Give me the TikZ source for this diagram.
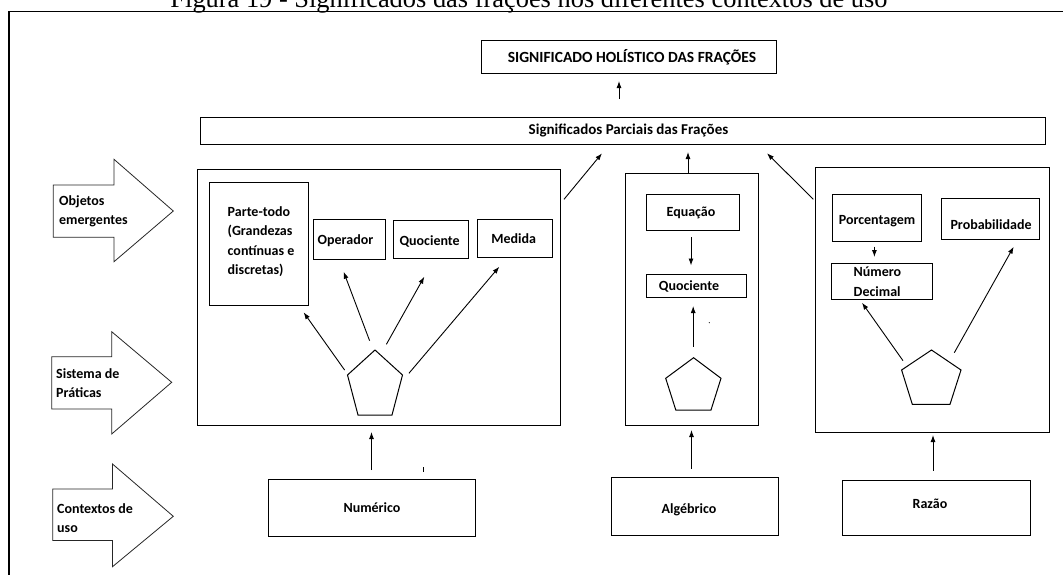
\documentclass[tikz,border=0pt]{standalone}
\usepackage{fontspec}
\setmainfont{Carlito}
\newfontfamily\titlefont{Liberation Serif}
\usetikzlibrary{arrows.meta}
\begin{document}
\begin{tikzpicture}[x=1pt,y=-1pt,
  box/.style={draw, line width=1pt, inner sep=0pt},
  txt/.style={inner sep=0pt, font=\bfseries\fontsize{14}{19.5}\selectfont},
  ltxt/.style={txt, align=left, anchor=west},
  arr/.style={-{Latex[length=7pt,width=5pt]}, line width=0.9pt},
  blk/.style={draw=black!85, line width=0.8pt, fill=white, line join=miter},
  pent/.style={draw, line width=1pt}]
\useasboundingbox (0,0) rectangle (1063,574);
\clip (0,0) rectangle (1063,574);
% title and frame
\node[anchor=base, inner sep=0pt, font=\titlefont\fontsize{26.4}{26.4}\selectfont] (title) at (529,7.5) {Figura 19 - Significados das frações nos diferentes contextos de uso};
\draw[line width=1.8pt] (9,580) -- (9,11.5) -- (1070,11.5);
% top boxes
\node[box, minimum width=295pt, minimum height=33pt] (hol) at (628.5,56.5) {};
\node[txt, font=\bfseries\fontsize{15.5}{18}\selectfont] (holt) at (632,57) {SIGNIFICADO HOLÍSTICO DAS FRAÇÕES};
\node[box, minimum width=845pt, minimum height=27pt] (par) at (622.5,130.5) {};
\node[txt, font=\bfseries\fontsize{15}{18}\selectfont] (part) at (628.5,130) {Significados Parciais das Frações};
\coordinate (parup) at (619,99);
\coordinate (holin) at (619,81);
\draw[arr] (parup) -- (holin);
% left box
\node[box, minimum width=363pt, minimum height=256pt] (numbox) at (378.5,297) {};
\node[box, minimum width=99pt, minimum height=123pt] (pt) at (258.5,243.5) {};
\node[ltxt] (ptt) at (227.5,241.5) {Parte-todo\\(Grandezas\\contínuas e\\discretas)};
\node[box, minimum width=72pt, minimum height=40pt] (op) at (349.5,239.5) {};
\node[txt] (opt) at (345.5,240.5) {Operador};
\node[box, minimum width=75pt, minimum height=38pt] (q1) at (430.5,239.5) {};
\node[txt] (q1t) at (429.6,241) {Quociente};
\node[box, minimum width=75.5pt, minimum height=38pt] (med) at (514.75,238) {};
\node[txt] (medt) at (513.6,239) {Medida};
\draw[pent] (375,350) -- (402.5,375) -- (392,415) -- (358,415) -- (347.5,375) -- cycle;
\coordinate (pa1) at (344.6,370);   \coordinate (pa1e) at (303.6,312.3);
\coordinate (pa2) at (369.6,340.7); \coordinate (pa2e) at (343.6,271.7);
\coordinate (pa3) at (386.4,344.3); \coordinate (pa3e) at (424.3,276.7);
\coordinate (pa4) at (408.9,373.3); \coordinate (pa4e) at (499.3,266.7);
\draw[arr] (pa1) -- (pa1e);
\draw[arr] (pa2) -- (pa2e);
\draw[arr] (pa3) -- (pa3e);
\draw[arr] (pa4) -- (pa4e);
% center box
\node[box, minimum width=132.5pt, minimum height=252pt] (algbox) at (691.75,299) {};
\node[box, minimum width=93pt, minimum height=36pt] (eq) at (693,212) {};
\node[txt] (eqt) at (691,213) {Equação};
\node[box, minimum width=100pt, minimum height=23pt] (q2) at (696,285.5) {};
\node[txt] (q2t) at (689,286) {Quociente};
\coordinate (eqd) at (691,237);
\draw[arr] (eqd) -- (691,265.5);
\draw[pent] (693.6,357.7) -- (721,378.3) -- (711,410) -- (675.8,410) -- (665.7,378.3) -- cycle;
\coordinate (pb1) at (693.2,346.7);
\draw[arr] (pb1) -- (693.2,306);
\fill (709.3,322.7) circle (0.6pt);
% right box
\node[box, minimum width=233.5pt, minimum height=265pt] (razbox) at (932.25,299.5) {};
\node[box, minimum width=89pt, minimum height=47pt] (porc) at (877,217.5) {};
\node[txt] (porct) at (877,221.5) {Porcentagem};
\node[box, minimum width=101.5pt, minimum height=36pt] (nd) at (881.75,281.5) {};
\node[ltxt] (ndt) at (853.5,281.5) {Número\\Decimal};
\node[box, minimum width=98pt, minimum height=41pt] (prob) at (990,218.5) {};
\node[txt] (probt) at (991,225) {Probabilidade};
\coordinate (porcd) at (874.4,246.7);
\draw[arr] (porcd) -- (874.4,257);
\draw[pent] (931.5,350) -- (961,370) -- (950,404.3) -- (912.3,404.3) -- (901.6,370) -- cycle;
\coordinate (pc1) at (903,360.7);   \coordinate (pc1e) at (862,302.7);
\coordinate (pc2) at (954.3,352.7); \coordinate (pc2e) at (1013.7,246.7);
\draw[arr] (pc1) -- (pc1e);
\draw[arr] (pc2) -- (pc2e);
% arrows to partial box
\coordinate (lb) at (564,199.3);
\coordinate (rb) at (813.4,199.3);
\draw[arr] (lb) -- (602,153.3);
\draw[arr] (algbox.north -| 688,0) -- (688,152);
\draw[arr] (rb) -- (767,153.3);
% bottom context boxes
\node[box, minimum width=207pt, minimum height=57pt] (num) at (371.5,507.5) {};
\node[txt] (numt) at (372,508) {Numérico};
\node[box, minimum width=166.5pt, minimum height=58pt] (alg) at (694.75,506) {};
\node[txt] (algt) at (689,510) {Algébrico};
\node[box, minimum width=188pt, minimum height=55pt] (raz) at (936,507.5) {};
\node[txt] (razt) at (930,503.5) {Razão};
\coordinate (na) at (371.5,470); \coordinate (ne) at (371.5,432);
\coordinate (aa) at (691.5,468.7); \coordinate (ae) at (691.5,430);
\coordinate (ra) at (933,470.7); \coordinate (re) at (933,435);
\draw[arr] (na) -- (ne);
\draw[arr] (aa) -- (ae);
\draw[arr] (ra) -- (re);
\draw[line width=0.8pt] (423.5,467) -- (423.5,472);
% block arrows on the left
\draw[blk] (53.3,185) -- (114,185) -- (114,159.3) -- (173.3,211) -- (114,261.7) -- (114,237.3) -- (53.3,237.3) -- cycle;
\node[ltxt] (obj) at (59,211.5) {Objetos\\emergentes};
\draw[blk] (51.7,356.7) -- (111.7,356.7) -- (111.7,331.7) -- (171.7,382.3) -- (111.7,434) -- (111.7,409) -- (51.7,409) -- cycle;
\node[ltxt] (sis) at (56,383) {Sistema de\\Práticas};
\draw[blk] (52.7,489) -- (112.5,489) -- (112.5,464) -- (173.3,516.3) -- (112.5,566.7) -- (112.5,540.5) -- (52.7,540.5) -- cycle;
\node[ltxt] (ctx) at (57,518) {Contextos de\\uso};
\end{tikzpicture}
\end{document}
